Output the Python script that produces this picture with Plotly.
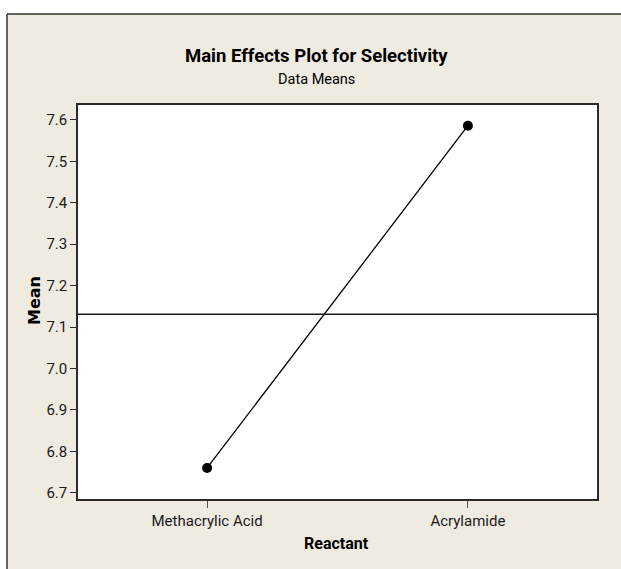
import plotly.graph_objects as go

# Main effects data (Minitab-style main effects plot)
reactants = ["Methacrylic Acid", "Acrylamide"]
mean_selectivity = [6.76, 7.586]
grand_mean = 7.131
y_ticks = [6.7, 6.8, 6.9, 7.0, 7.1, 7.2, 7.3, 7.4, 7.5, 7.6]

W, H = 621, 569
L, R, T, B = 78, 24, 105, 70
PW, PH = W - L - R, H - T - B


def px(x):
    return (x - L) / PW


def py(y):
    return (H - B - y) / PH


NARROW = "Liberation Sans Narrow, Roboto, Arial Narrow, sans-serif"
BEIGE = "rgb(239,235,225)"
INK = "#1a1a1a"

fig = go.Figure()

fig.add_trace(go.Scatter(
    x=reactants,
    y=mean_selectivity,
    mode="lines+markers",
    line=dict(color="black", width=1.3),
    marker=dict(color="black", size=10, symbol="circle"),
    showlegend=False,
    hoverinfo="x+y",
))

# Overall mean reference line
fig.add_shape(type="line", xref="paper", yref="y", x0=0, x1=1,
              y0=grand_mean, y1=grand_mean,
              line=dict(color=INK, width=1.5), layer="above")

# White page margin with a dark frame along top and left edges
fig.add_shape(type="rect", xref="paper", yref="paper",
              x0=px(-5), x1=px(W + 5), y0=py(-5), y1=py(14),
              fillcolor="white", line=dict(width=0), layer="above")
fig.add_shape(type="rect", xref="paper", yref="paper",
              x0=px(-5), x1=px(7), y0=py(H + 5), y1=py(-5),
              fillcolor="white", line=dict(width=0), layer="above")
fig.add_shape(type="line", xref="paper", yref="paper",
              x0=px(7), x1=px(W + 5), y0=py(14), y1=py(14),
              line=dict(color="#333333", width=1.5), layer="above")
fig.add_shape(type="line", xref="paper", yref="paper",
              x0=px(7), x1=px(7), y0=py(14), y1=py(H + 5),
              line=dict(color="#333333", width=1.5), layer="above")

annotations = [
    dict(text="<b>Main Effects Plot for Selectivity</b>", x=px(316), y=py(56),
         font=dict(family=NARROW, size=18.5, color="black")),
    dict(text="Data Means", x=px(316), y=py(80),
         font=dict(family=NARROW, size=14.5, color="black")),
    dict(text="<b>Reactant</b>", x=px(336), y=py(543),
         font=dict(family=NARROW, size=16, color="black")),
    dict(text="<b>Mean</b>", x=px(34), y=py(301), textangle=-90,
         font=dict(family="DejaVu Sans, Verdana, sans-serif", size=16, color="black")),
]
for a in annotations:
    a.update(xref="paper", yref="paper", showarrow=False,
             xanchor="center", yanchor="middle")

fig.update_layout(
    width=W, height=H,
    margin=dict(l=L, r=R, t=T, b=B),
    paper_bgcolor=BEIGE,
    plot_bgcolor="white",
    annotations=annotations,
    font=dict(family=NARROW, size=15, color=INK),
)

fig.update_xaxes(
    type="category",
    range=[-0.495, 1.495],
    showgrid=False, zeroline=False,
    showline=True, linecolor="#2a2a2a", linewidth=1.5, mirror=True,
    ticks="outside", ticklen=7, tickwidth=1.2, tickcolor="#555555",
    tickfont=dict(family=NARROW, size=15, color=INK),
    ticklabelstandoff=0,
)
fig.update_yaxes(
    range=[6.685, 7.636],
    tickvals=y_ticks,
    ticktext=[f"{v:.1f}" for v in y_ticks],
    showgrid=False, zeroline=False,
    showline=True, linecolor="#2a2a2a", linewidth=1.5, mirror=True,
    ticks="outside", ticklen=6, tickwidth=1.2, tickcolor="#2a2a2a",
    tickfont=dict(family=NARROW, size=15, color=INK),
)

fig.write_html("out.html")
